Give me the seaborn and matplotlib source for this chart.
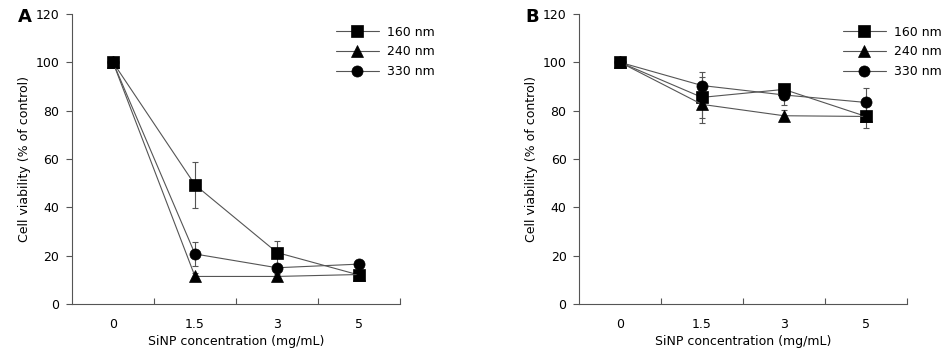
import seaborn as sns
import matplotlib.pyplot as plt
import pandas as pd
import numpy as np

# Data
conc = ['0', '1.5', '3', '5']
sizes = ['160 nm', '240 nm', '330 nm']
markers = ['s', '^', 'o']

a_160 = [100, 49.3, 21.3, 12.0]
a_240 = [100, 11.4, 11.4, 12.2]
a_330 = [100, 20.7, 15.0, 16.5]
a_160_err = [0, 9.6, 4.8, 1.2]
a_240_err = [0, 1.5, 1.0, 1.0]
a_330_err = [0, 4.8, 1.5, 1.0]

b_160 = [100, 85.5, 88.8, 77.6]
b_240 = [100, 82.6, 77.9, 77.6]
b_330 = [100, 90.4, 86.5, 83.4]
b_160_err = [0, 8.5, 2.0, 4.6]
b_240_err = [0, 7.8, 2.3, 2.0]
b_330_err = [0, 5.6, 4.0, 6.0]

panels = {
    'A': ([a_160, a_240, a_330], [a_160_err, a_240_err, a_330_err]),
    'B': ([b_160, b_240, b_330], [b_160_err, b_240_err, b_330_err]),
}

sns.set_style('ticks')
plt.rcParams['font.family'] = ['DejaVu Sans']
plt.rcParams['font.size'] = 9
plt.rcParams['text.color'] = 'black'
plt.rcParams['axes.labelcolor'] = 'black'
plt.rcParams['xtick.labelcolor'] = 'black'
plt.rcParams['ytick.labelcolor'] = 'black'

fig = plt.figure(figsize=(9.45, 3.54), dpi=100)
line_col = '#555555'

lefts = {'A': 72 / 945, 'B': 579 / 945}
for name, (vals, errs) in panels.items():
    ax = fig.add_axes([lefts[name], 50 / 354, 328 / 945, 290 / 354])
    for label, mk, v, e in zip(sizes, markers, vals, errs):
        df = pd.DataFrame({'conc': conc, 'viability': v})
        ax.errorbar(conc, v, yerr=e, fmt='none', ecolor=line_col,
                    elinewidth=0.8, capsize=2.5, capthick=0.8, zorder=1)
        sns.lineplot(data=df, x='conc', y='viability', ax=ax, sort=False,
                     color=line_col, lw=0.8, marker=mk,
                     markersize=8.5 if mk != 'o' else 8,
                     markerfacecolor='black', markeredgecolor='black',
                     markeredgewidth=0.5, label=label, zorder=3)

    ax.set_xlim(-0.5, 3.5)
    ax.set_ylim(0, 120)
    ax.set_yticks([0, 20, 40, 60, 80, 100, 120])
    ax.set_xticks(range(4))
    ax.set_xticklabels(conc)
    ax.set_xticks([0.5, 1.5, 2.5, 3.5], minor=True)
    ax.tick_params(axis='x', which='major', length=0, pad=10, labelsize=9)
    ax.tick_params(axis='x', which='minor', direction='in', length=4,
                   width=0.8, color=line_col)
    ax.tick_params(axis='y', length=4, width=0.8, color=line_col,
                   pad=5, labelsize=9)
    for s in ['top', 'right']:
        ax.spines[s].set_visible(False)
    for s in ['left', 'bottom']:
        ax.spines[s].set_color(line_col)
        ax.spines[s].set_linewidth(0.8)

    ax.set_xlabel('SiNP concentration (mg/mL)', fontsize=9, labelpad=3)
    ax.set_ylabel('Cell viability (% of control)', fontsize=9, labelpad=3)

    ax.legend(loc='upper left', bbox_to_anchor=(0.805, 0.96),
              frameon=False, borderpad=0, borderaxespad=0,
              handlelength=3.4, handletextpad=0.7, labelspacing=0.55,
              fontsize=9)

    ax.text(-0.143, 0.99, name, transform=ax.transAxes, fontsize=13,
            fontweight='bold', ha='center', va='center')

fig.savefig('out.png', dpi=100)
